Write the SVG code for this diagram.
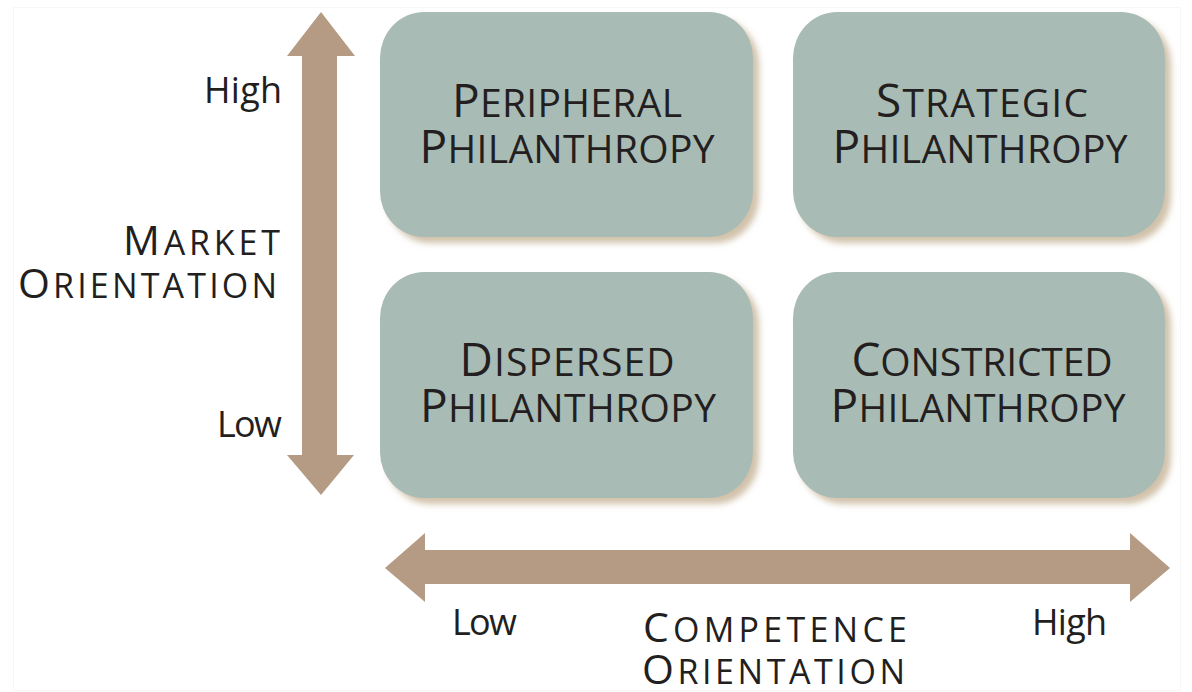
<svg xmlns="http://www.w3.org/2000/svg" width="1192" height="692" viewBox="0 0 1192 692">
  <style>
    .box { fill: #a9bbb5; filter: url(#shadow); }
    .lbl { font-family: "Open Sans", "Liberation Sans", sans-serif; fill: #231f20; }
    .big { font-size: 46px; }
    .sm { font-size: 39px; }
    .abig { font-size: 41px; }
    .asm { font-size: 34px; }
    .tick { font-family: "Open Sans", "Liberation Sans", sans-serif; font-size: 36px; fill: #231f20; }
    .axis { fill: #b59b83; }
  </style>
  <defs>
    <filter id="shadow" x="-10%" y="-10%" width="125%" height="130%">
      <feDropShadow dx="6" dy="6" stdDeviation="3" flood-color="#c9b79c" flood-opacity="0.85"/>
    </filter>
  </defs>
  <rect x="0" y="0" width="1192" height="692" fill="#ffffff"/>
  <rect x="13.5" y="7.5" width="1167" height="683" fill="none" stroke="#f7f7f7" stroke-width="1"/>

  <g id="connectors">
    <polygon class="axis" points="321,12 355,56 337,56 337,455 354,455 321,495 287,455 302,455 302,56 287,56"/>
    <polygon class="axis" points="385,568 425,533 425,550 1130,550 1130,533 1170,568 1130,602 1130,584 425,584 425,602"/>
  </g>

  <g id="node-peripheral">
    <rect class="box" x="380" y="12" width="373" height="225" rx="44" ry="46"/>
    <text class="lbl" x="567" y="117" text-anchor="middle" textLength="230"><tspan class="big">P</tspan><tspan class="sm">ERIPHERAL</tspan></text>
    <text class="lbl" x="567" y="163" text-anchor="middle" textLength="295"><tspan class="big">P</tspan><tspan class="sm">HILANTHROPY</tspan></text>
  </g>

  <g id="node-strategic">
    <rect class="box" x="793" y="12" width="372" height="225" rx="44" ry="46"/>
    <text class="lbl" x="982" y="117" text-anchor="middle" textLength="212"><tspan class="big">S</tspan><tspan class="sm">TRATEGIC</tspan></text>
    <text class="lbl" x="980" y="163" text-anchor="middle" textLength="295"><tspan class="big">P</tspan><tspan class="sm">HILANTHROPY</tspan></text>
  </g>

  <g id="node-dispersed">
    <rect class="box" x="380" y="272" width="373" height="226" rx="44" ry="46"/>
    <text class="lbl" x="567" y="376" text-anchor="middle" textLength="215"><tspan class="big">D</tspan><tspan class="sm">ISPERSED</tspan></text>
    <text class="lbl" x="568" y="422" text-anchor="middle" textLength="296"><tspan class="big">P</tspan><tspan class="sm">HILANTHROPY</tspan></text>
  </g>

  <g id="node-constricted">
    <rect class="box" x="793" y="272" width="372" height="226" rx="44" ry="46"/>
    <text class="lbl" x="982" y="376" text-anchor="middle" textLength="261"><tspan class="big">C</tspan><tspan class="sm">ONSTRICTED</tspan></text>
    <text class="lbl" x="978" y="422" text-anchor="middle" textLength="295"><tspan class="big">P</tspan><tspan class="sm">HILANTHROPY</tspan></text>
  </g>

  <g id="label-market">
    <text class="lbl" x="123" y="255" textLength="157"><tspan class="abig">M</tspan><tspan class="asm">ARKET</tspan></text>
    <text class="lbl" x="18" y="298" textLength="259"><tspan class="abig">O</tspan><tspan class="asm">RIENTATION</tspan></text>
  </g>

  <g id="label-competence">
    <text class="lbl" x="643" y="642" textLength="264"><tspan class="abig">C</tspan><tspan class="asm">OMPETENCE</tspan></text>
    <text class="lbl" x="642" y="684" textLength="263"><tspan class="abig">O</tspan><tspan class="asm">RIENTATION</tspan></text>
  </g>

  <g id="ticks">
    <text class="tick" x="204" y="103" textLength="78">High</text>
    <text class="tick" x="217" y="437" textLength="65">Low</text>
    <text class="tick" x="452" y="635" textLength="65">Low</text>
    <text class="tick" x="1032" y="635" textLength="75">High</text>
  </g>
</svg>
